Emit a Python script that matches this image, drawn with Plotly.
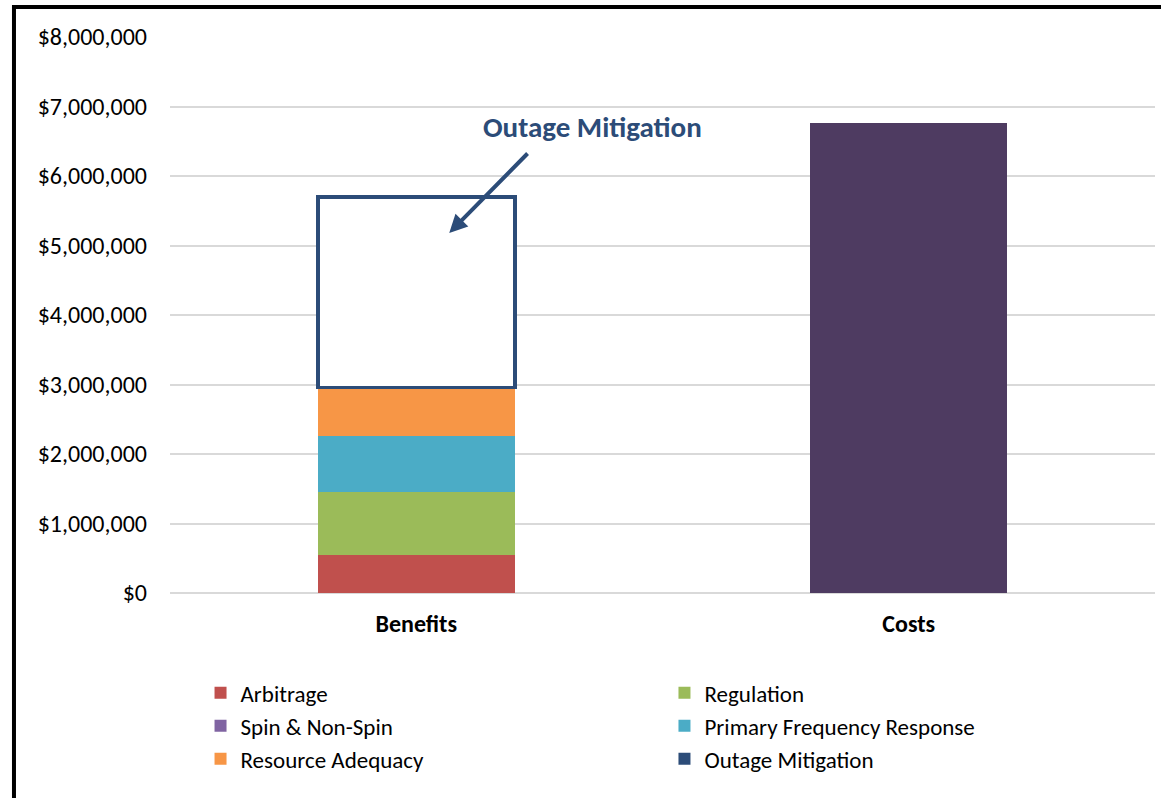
import plotly.graph_objects as go

categories = ["Benefits", "Costs"]

# Benefit streams (stacked on the Benefits bar)
arbitrage = [540000, None]
regulation = [910000, None]
spin_non_spin = [0, None]
primary_freq_response = [805000, None]
resource_adequacy = [705000, None]
outage_mitigation = [2740000, None]

# Project cost
costs = [None, 6760000]

tick_vals = [0, 1000000, 2000000, 3000000, 4000000, 5000000, 6000000, 7000000, 8000000]
tick_text = ["$0", "$1,000,000", "$2,000,000", "$3,000,000", "$4,000,000",
             "$5,000,000", "$6,000,000", "$7,000,000", "$8,000,000"]

FONT = "Carlito, Calibri, Lato, sans-serif"
NAVY = "#2C4C78"

fig = go.Figure()

def stream(name, values, color, legend):
    fig.add_trace(go.Bar(
        x=categories, y=values, name=name, marker_color=color,
        marker_line_width=0, legend=legend,
    ))

stream("Arbitrage", arbitrage, "#C0504D", "legend")
stream("Regulation", regulation, "#9BBB59", "legend2")
stream("Spin & Non-Spin", spin_non_spin, "#8064A2", "legend")
stream("Primary Frequency Response", primary_freq_response, "#4BACC6", "legend2")
stream("Resource Adequacy", resource_adequacy, "#F79646", "legend")

# Outage mitigation: hollow box drawn in outline only
fig.add_trace(go.Bar(
    x=categories, y=outage_mitigation, name="Outage Mitigation",
    marker=dict(color="rgba(255,255,255,1)", line=dict(color=NAVY, width=3.5)),
    showlegend=False,
))
# solid swatch for the legend entry
fig.add_trace(go.Bar(
    x=categories, y=[None, None], name="Outage Mitigation",
    marker_color=NAVY, marker_line_width=0, legend="legend2",
))

fig.add_trace(go.Bar(
    x=categories, y=costs, name="Costs", marker_color="#4E3B61",
    marker_line_width=0, showlegend=False,
))

# Callout for the outage mitigation box
fig.add_annotation(
    x=0.357, y=6705000, xref="x", yref="y", text="<b>Outage Mitigation</b>",
    showarrow=False, font=dict(family=FONT, size=29, color=NAVY),
)
fig.add_annotation(
    x=0.067, y=5180000, xref="x", yref="y", text="",
    showarrow=True, ax=0.229, ay=6345000, axref="x", ayref="y",
    arrowhead=2, arrowsize=0.9, arrowwidth=4, arrowcolor=NAVY,
)

# Black frame around the chart area
fig.add_shape(
    type="rect", xref="paper", yref="paper",
    x0=-0.1584, x1=1.2, y0=-0.5, y1=1.054,
    line=dict(color="black", width=4), fillcolor="rgba(0,0,0,0)", layer="below",
)

legend_common = dict(
    orientation="v", xanchor="left", yanchor="top",
    font=dict(family=FONT, size=23, color="#000000"),
    bgcolor="rgba(0,0,0,0)", tracegroupgap=0, traceorder="normal",
    itemwidth=30,
)

fig.update_layout(
    width=1161, height=798,
    barmode="stack", bargap=0.6,
    paper_bgcolor="white", plot_bgcolor="white",
    margin=dict(l=170, r=6, t=37, b=205),
    font=dict(family=FONT, size=22, color="#000000"),
    xaxis=dict(
        tickfont=dict(family=FONT, size=24, color="#000000"),
        tickvals=categories, ticktext=["<b>Benefits</b>", "<b>Costs</b>"],
        showline=False, showgrid=False, ticks="", ticklabelstandoff=14,
    ),
    yaxis=dict(
        range=[0, 8000000], tickvals=tick_vals, ticktext=tick_text,
        showgrid=True, gridcolor="#D9D9D9", gridwidth=1.5,
        zeroline=True, zerolinecolor="#D9D9D9", zerolinewidth=1.5,
        showline=False, ticks="", ticklabelstandoff=22,
        tickfont=dict(family=FONT, size=24, color="#000000"),
    ),
    legend=dict(x=0.031, y=-0.141, **legend_common),
    legend2=dict(x=0.502, y=-0.141, **legend_common),
    showlegend=True,
)

fig.write_html("out.html")
